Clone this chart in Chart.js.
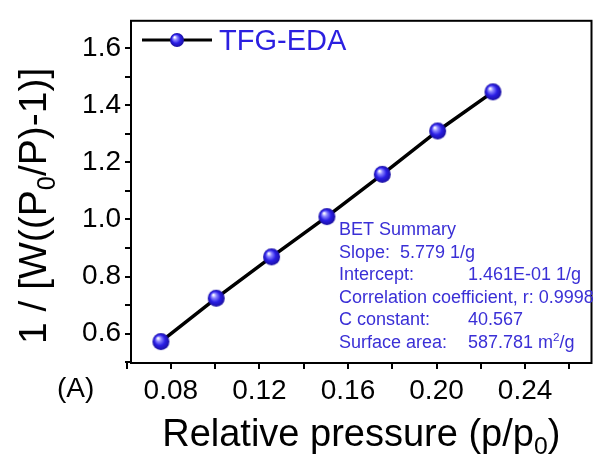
<!DOCTYPE html>
<html>
<head>
<meta charset="utf-8">
<script src="https://cdn.jsdelivr.net/npm/chart.js@4/dist/chart.umd.min.js"></script>
<style>
  html, body { margin: 0; padding: 0; background: #fff; }
  #wrap { width: 603px; height: 459px; }
</style>
</head>
<body>
<div id="wrap"><canvas id="betChart" width="603" height="459"></canvas></div>
<script>
// data
const seriesName = "TFG-EDA";
const pressure = [0.0755, 0.1005, 0.1255, 0.1505, 0.1755, 0.2005, 0.2255];
const betValues = [0.572, 0.724, 0.869, 1.010, 1.158, 1.310, 1.447];
const xTicks = [0.08, 0.12, 0.16, 0.20, 0.24];
const xMinorTicks = [0.06, 0.10, 0.14, 0.18, 0.22, 0.26];
const yTicks = [0.6, 0.8, 1.0, 1.2, 1.4, 1.6];
const yMinorTicks = [0.5, 0.7, 0.9, 1.1, 1.3, 1.5];
const summaryLabels = ["BET Summary", "Slope:  5.779 1/g", "Intercept:", "Correlation coefficient, r: 0.9998", "C constant:", "Surface area:"];
const summaryValues = ["", "", "1.461E-01 1/g", "", "40.567", "587.781 m^2/g"];

const FONT = "'Liberation Sans', Arial, sans-serif";
const BLUE = "#3a2fd6";

// sphere marker
function makeSphere(r) {
  const c = document.createElement('canvas');
  c.width = c.height = r * 2 + 2;
  const g = c.getContext('2d');
  const cx = r + 1, cy = r + 1;
  const grad = g.createRadialGradient(cx - r * 0.35, cy - r * 0.4, 0.5, cx, cy, r);
  grad.addColorStop(0, '#ffffff');
  grad.addColorStop(0.25, '#8c86ff');
  grad.addColorStop(0.6, '#2a1ee6');
  grad.addColorStop(1, '#1a0fa0');
  g.fillStyle = grad;
  g.beginPath();
  g.arc(cx, cy, r, 0, Math.PI * 2);
  g.fill();
  return c;
}
const sphere = makeSphere(8.5);
const smallSphere = makeSphere(7);

// text with ^sup / _sub parts
function richParts(str) {
  const out = [];
  const re = /([\^_])(\w)/g;
  let last = 0, m;
  while ((m = re.exec(str))) {
    if (m.index > last) out.push({ t: str.slice(last, m.index), k: 0 });
    out.push({ t: m[2], k: m[1] === '^' ? -1 : 1 });
    last = re.lastIndex;
  }
  if (last < str.length) out.push({ t: str.slice(last), k: 0 });
  return out;
}
function richWidth(ctx, str, size) {
  let w = 0;
  richParts(str).forEach(p => {
    ctx.font = (p.k ? size * 0.65 : size) + 'px ' + FONT;
    w += ctx.measureText(p.t).width;
  });
  return w;
}
function drawRich(ctx, str, x, y, size) {
  richParts(str).forEach(p => {
    const s = p.k ? size * 0.65 : size;
    ctx.font = s + 'px ' + FONT;
    const dy = p.k === -1 ? -size * 0.38 : (p.k === 1 ? size * 0.22 : 0);
    ctx.fillText(p.t, x, y + dy);
    x += ctx.measureText(p.t).width;
  });
}

const decorPlugin = {
  id: 'decor',
  afterDraw(chart) {
    const ctx = chart.ctx;
    const a = chart.chartArea;
    ctx.save();
    // frame
    ctx.strokeStyle = '#000';
    ctx.lineWidth = 2;
    ctx.strokeRect(a.left, a.top, a.right - a.left, a.bottom - a.top);

    ctx.textAlign = 'left';
    ctx.textBaseline = 'alphabetic';

    // legend
    ctx.strokeStyle = '#000';
    ctx.lineWidth = 3;
    ctx.beginPath();
    ctx.moveTo(a.left + 11, 40);
    ctx.lineTo(a.left + 81, 40);
    ctx.stroke();
    ctx.drawImage(smallSphere, a.left + 46 - 8, 40 - 8);
    ctx.fillStyle = '#2b1fe0';
    ctx.font = '29px ' + FONT;
    ctx.fillText(seriesName, a.left + 88, 50);

    // BET summary
    ctx.fillStyle = BLUE;
    const x0 = 339, x1 = 468;
    summaryLabels.forEach((lab, i) => {
      const y = 235 + i * 22.6;
      drawRich(ctx, lab, x0, y, 18);
      if (summaryValues[i]) drawRich(ctx, summaryValues[i], x1, y, 18);
    });

    // axis titles
    ctx.fillStyle = '#000';
    const xt = 'Relative pressure (p/p_0)';
    drawRich(ctx, xt, (a.left + a.right) / 2 - richWidth(ctx, xt, 38) / 2, 446, 38);
    const yt = '1 / [W((P_0/P)-1)]';
    ctx.translate(46, (a.top + a.bottom) / 2 + 14);
    ctx.rotate(-Math.PI / 2);
    drawRich(ctx, yt, -richWidth(ctx, yt, 39) / 2, 0, 39);
    ctx.setTransform(1, 0, 0, 1, 0, 0);

    // panel label
    ctx.font = '28px ' + FONT;
    ctx.fillText('(A)', 57, 397);
    ctx.restore();
  }
};

const data = pressure.map((p, i) => ({ x: p, y: betValues[i] }));

new Chart(document.getElementById('betChart'), {
  type: 'scatter',
  data: {
    datasets: [{
      label: seriesName,
      data: data,
      showLine: true,
      borderColor: '#000',
      borderWidth: 3.5,
      pointStyle: sphere,
      pointRadius: 8,
      pointHoverRadius: 8
    }]
  },
  options: {
    responsive: false,
    animation: false,
    layout: { padding: { top: 14, right: 4, left: 0, bottom: 0 } },
    plugins: { legend: { display: false }, tooltip: { enabled: false } },
    scales: {
      x: {
        type: 'linear',
        min: 0.062,
        max: 0.270,
        border: { display: false },
        grid: { drawOnChartArea: false, color: '#000', lineWidth: 2, tickLength: 6 },
        ticks: {
          color: '#000',
          font: { family: FONT, size: 28 },
          padding: 5,
          maxRotation: 0,
          autoSkip: false,
          callback: v => xTicks.some(t => Math.abs(t - v) < 1e-9) ? v.toFixed(2) : ''
        },
        afterBuildTicks: s => { s.ticks = xTicks.concat(xMinorTicks).sort((p, q) => p - q).map(v => ({ value: v })); },
        afterFit: s => { s.height = 459 - 363; }
      },
      y: {
        type: 'linear',
        min: 0.497,
        max: 1.696,
        border: { display: false },
        grid: { drawOnChartArea: false, color: '#000', lineWidth: 2, tickLength: 6 },
        ticks: {
          color: '#000',
          font: { family: FONT, size: 28 },
          padding: 4,
          autoSkip: false,
          callback: v => yTicks.some(t => Math.abs(t - v) < 1e-9) ? v.toFixed(1) : ''
        },
        afterBuildTicks: s => { s.ticks = yTicks.concat(yMinorTicks).sort((p, q) => p - q).map(v => ({ value: v })); },
        afterFit: s => { s.width = 131; }
      }
    }
  },
  plugins: [decorPlugin]
});
</script>
</body>
</html>
